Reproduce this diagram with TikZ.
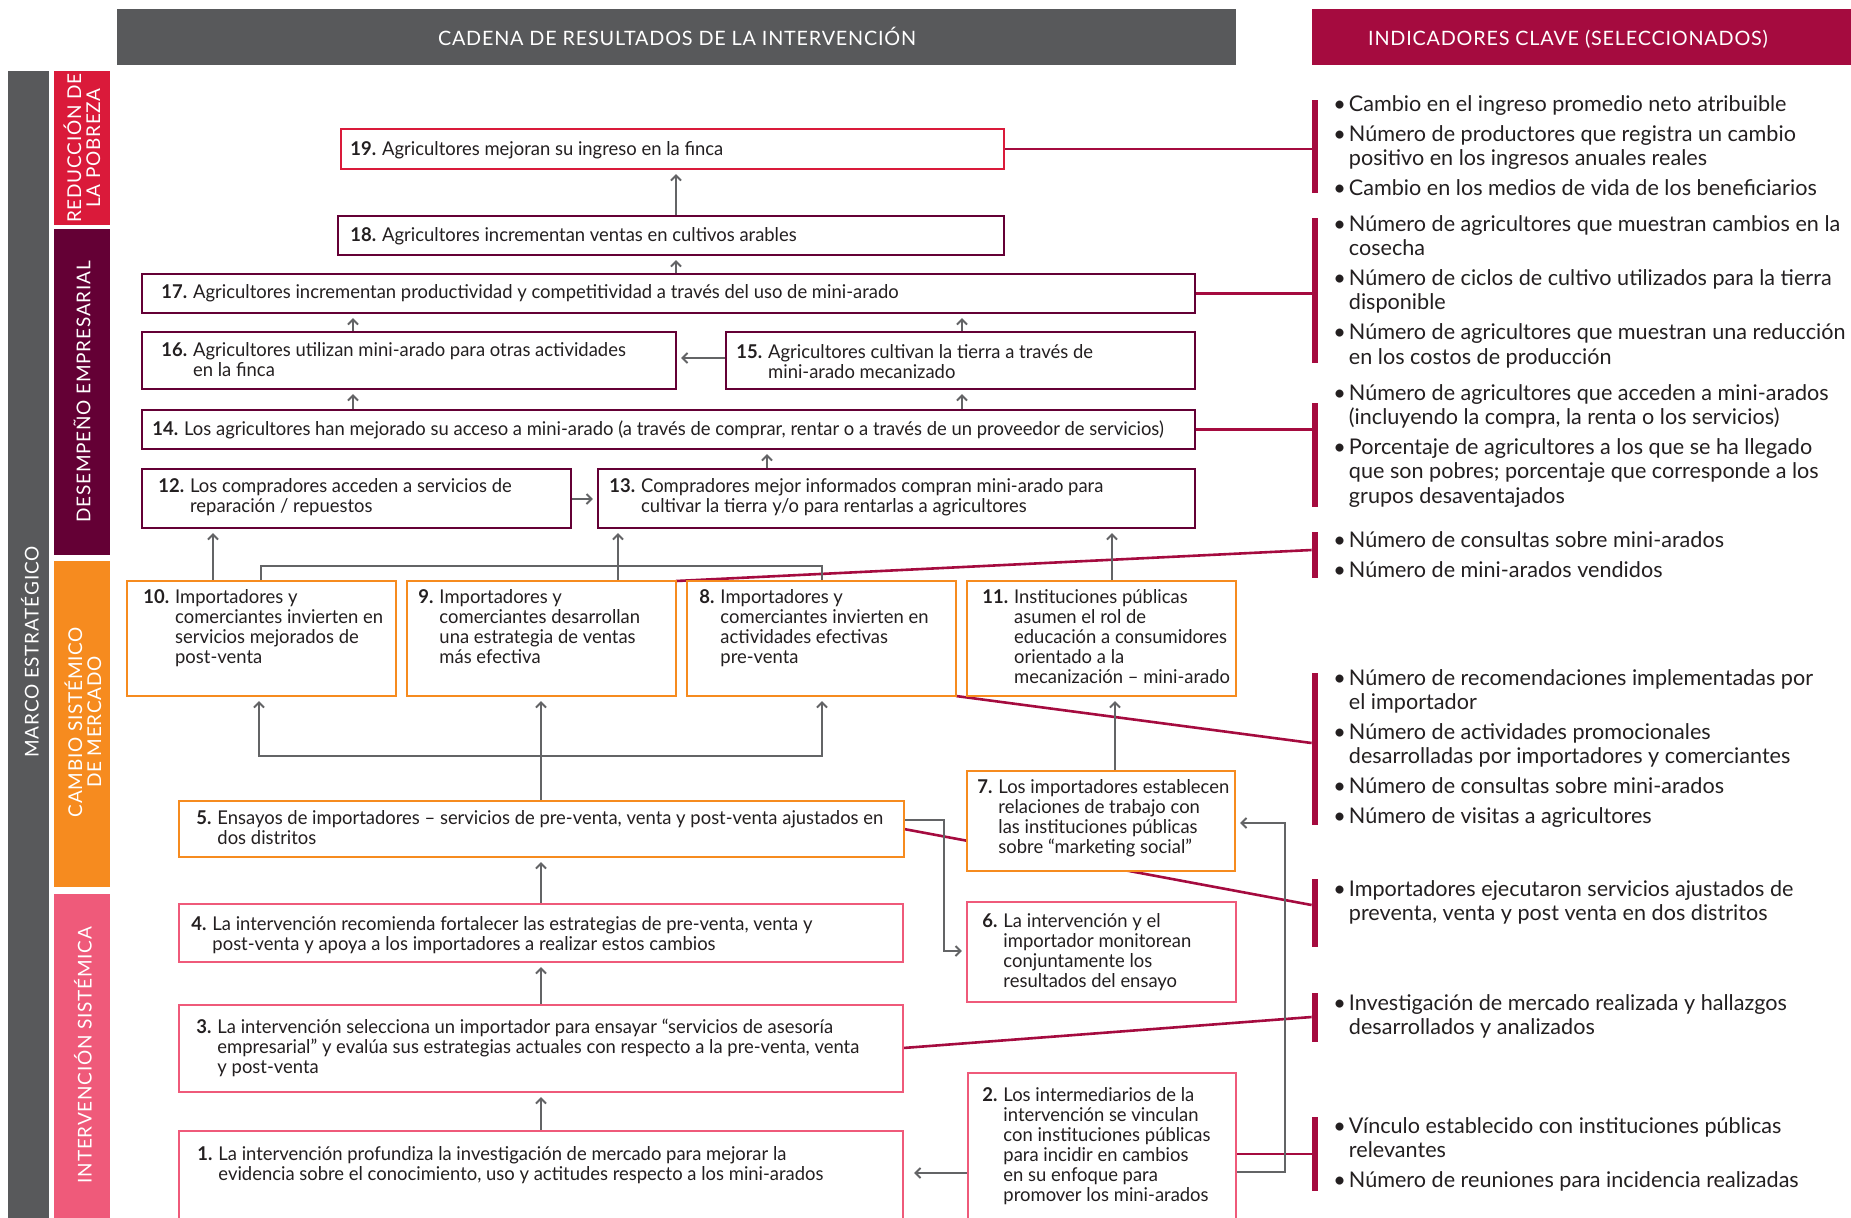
\documentclass[tikz,border=0pt]{standalone}
\usepackage{fontspec}
\setmainfont{Lato}
\newfontfamily\boxfont[FakeStretch=0.97]{Lato}
\newfontfamily\capfont[LetterSpace=4]{Lato}
\usetikzlibrary{arrows.meta,fit,calc}
\definecolor{dgray}{HTML}{58595B}
\definecolor{cgray}{HTML}{636466}
\definecolor{crim}{HTML}{A50B3F}
\definecolor{pred}{HTML}{DA1A3A}
\definecolor{maroon}{HTML}{640035}
\definecolor{orng}{HTML}{F68B1F}
\definecolor{pinkc}{HTML}{EF5A7A}
\definecolor{ink}{HTML}{231F20}
\newcommand\bx[2]{\textbf{#1}\hspace{3pt}\begin{tabular}[t]{@{}l@{}}#2\end{tabular}}
\newcommand\igap{2.8pt}
\tikzset{
  boxbase/.style={inner sep=0pt, fill=white, line width=1.1pt},
  bred/.style={boxbase, draw=pred},
  bmar/.style={boxbase, draw=maroon},
  bora/.style={boxbase, draw=orng},
  bpnk/.style={boxbase, draw=pinkc},
  txt/.style={inner sep=0pt, anchor=base west, text=ink, font=\boxfont\fontsize{9.5}{10}\selectfont},
  ind/.style={inner sep=0pt, anchor=base west, text=ink, font=\fontsize{10.8}{12.2}\selectfont},
  arr/.style={draw=cgray, line width=1pt, -{Straight Barb[length=2.5pt,width=5pt]}, shorten >=2pt},
  gline/.style={draw=cgray, line width=1pt},
  cline/.style={draw=crim, line width=1.3pt},
  brk/.style={fill=crim, inner sep=0pt},
  band/.style={inner sep=0pt},
  bandtxt/.style={text=white, rotate=90, align=center, font=\capfont\fontsize{9.5}{9.5}\selectfont},
  headtxt/.style={text=white, anchor=base, font=\capfont\fontsize{9.9}{9.9}\selectfont},
}
\begin{document}
\begin{tikzpicture}[x=0.5pt,y=-0.5pt]
\useasboundingbox (0,0) rectangle (1851,1217);
\clip (0,0) rectangle (1851,1217);
% headers
\node[band, fill=dgray, fit={(117,9) (1236,65)}] (h1) {};
\node[headtxt] (h1t) at (677,45) {CADENA DE RESULTADOS DE LA INTERVENCIÓN};
\node[band, fill=crim, fit={(1312,9) (1860,65)}] (h2) {};
\node[headtxt] (h2t) at (1568,45) {INDICADORES CLAVE (SELECCIONADOS)};
% side bands
\node[band, fill=dgray, fit={(8,71) (49,1230)}] (sg) {};
\node[bandtxt] (sgt) at (30,652) {MARCO ESTRATÉGICO};
\node[band, fill=pred, fit={(54,71) (110,225)}] (s1) {};
\node[bandtxt] (s1t) at (s1.center) {REDUCCIÓN DE\\LA POBREZA};
\node[band, fill=maroon, fit={(54,229) (110,555)}] (s2) {};
\node[bandtxt] (s2t) at (s2.center) {DESEMPEÑO EMPRESARIAL};
\node[band, fill=orng, fit={(54,561) (110,887)}] (s3) {};
\node[bandtxt] (s3t) at (83,722) {CAMBIO SISTÉMICO\\DE MERCADO};
\node[band, fill=pinkc, fit={(54,894) (110,1230)}] (s4) {};
\node[bandtxt] (s4t) at (83,1055) {INTERVENCIÓN SISTÉMICA};
% brackets
\node[brk, fit={(1312,100) (1318,193)}] (k1) {};
\node[brk, fit={(1312,218) (1318,363)}] (k2) {};
\node[brk, fit={(1312,403) (1318,507)}] (k3) {};
\node[brk, fit={(1312,532) (1318,578)}] (k4) {};
\node[brk, fit={(1312,673) (1318,825)}] (k5) {};
\node[brk, fit={(1312,879) (1318,947)}] (k6) {};
\node[brk, fit={(1312,993) (1318,1042)}] (k7) {};
\node[brk, fit={(1312,1117) (1318,1191)}] (k8) {};
% box corner points used by crimson lines drawn before boxes
\coordinate (c9ne) at (676,581);
\coordinate (c8se) at (956,696);
\coordinate (c5e) at (904,829);
\coordinate (c3e) at (903,1048);
% crimson connectors (drawn first, under boxes)
\draw[cline] (1004,149) -- (k1.west |- 0,149);
\draw[cline] (1195,293.5) -- (k2.west |- 0,293.5);
\draw[cline] (1195,429.5) -- (k3.west |- 0,429.5);
\draw[cline] (c9ne) -- (k4.west |- 0,550);
\draw[cline] (c8se) -- (k5.west |- 0,743);
\draw[cline] (c5e) -- (k6.west |- 0,905);
\draw[cline] (c3e) -- (k7.west |- 0,1017);
\draw[cline] (1236,1154) -- (k8.west |- 0,1154);
% boxes
\node[bred, fit={(341,129) (1004,169)}] (b19) {};
\node[bmar, fit={(338,216) (1004,255)}] (b18) {};
\node[bmar, fit={(142,274) (1195,313)}] (b17) {};
\node[bmar, fit={(142,332) (676,389)}] (b16) {};
\node[bmar, fit={(726,332) (1195,389)}] (b15) {};
\node[bmar, fit={(142,410) (1195,449)}] (b14) {};
\node[bmar, fit={(142,469) (571,528)}] (b12) {};
\node[bmar, fit={(598,469) (1195,528)}] (b13) {};
\node[bora, fit={(127,581) (396,696)}] (b10) {};
\node[bora, fit={(407,581) (676,696)}] (b9) {};
\node[bora, fit={(687,581) (956,696)}] (b8) {};
\node[bora, fit={(967,581) (1236,696)}] (b11) {};
\node[bora, fit={(179,801) (904,857)}] (b5) {};
\node[bora, fit={(967,771) (1235,871)}] (b7) {};
\node[bpnk, fit={(967,902) (1236,1002)}] (b6) {};
\node[bpnk, fit={(179,904) (903,962)}] (b4) {};
\node[bpnk, fit={(179,1005) (903,1092)}] (b3) {};
\node[bpnk, fit={(179,1131) (903,1240)}] (b1) {};
\node[bpnk, fit={(968,1073) (1236,1240)}] (b2) {};
% gray connectors
\draw[arr] (b18.north -| 676,0) -- (b19.south -| 676,0);
\draw[arr] (b17.north -| 676,0) -- (b18.south -| 676,0);
\draw[arr] (b16.north -| 353,0) -- (b17.south -| 353,0);
\draw[arr] (b15.north -| 962,0) -- (b17.south -| 962,0);
\draw[arr] (b14.north -| 353,0) -- (b16.south -| 353,0);
\draw[arr] (b14.north -| 962,0) -- (b15.south -| 962,0);
\draw[arr] (b15.west |- 0,358) -- (b16.east |- 0,358);
\draw[arr] (b13.north -| 767,0) -- (b14.south -| 767,0);
\draw[arr] (b12.east |- 0,499) -- (b13.west |- 0,499);
\draw[arr] (b10.north -| 213,0) -- (b12.south -| 213,0);
\draw[gline] (b10.north -| 261,0) -- (261,566) -- (822,566) -- (b8.north -| 822,0);
\draw[arr] (b9.north -| 618,0) -- (b13.south -| 618,0);
\draw[arr] (b11.north -| 1112,0) -- (b13.south -| 1112,0);
\draw[arr] (b5.north -| 541,0) -- (b9.south -| 541,0);
\coordinate (j5) at (541,756);
\draw[arr] (j5) -| (b10.south -| 259,0);
\draw[arr] (j5) -| (b8.south -| 822,0);
\draw[arr] (b7.north -| 1115,0) -- (b11.south -| 1115,0);
\draw[arr] (b4.north -| 541,0) -- (b5.south -| 541,0);
\draw[arr] (b3.north -| 541,0) -- (b4.south -| 541,0);
\draw[arr] (b1.north -| 541,0) -- (b3.south -| 541,0);
\draw[arr] (b5.east |- 0,820) -- (944,820) -- (944,951) -- (b6.west |- 0,951);
\draw[arr] (b2.east |- 0,1172) -- (1285,1172) -- (1285,823) -- (b7.east |- 0,823);
\draw[arr, shorten >=5pt] (b2.west |- 0,1173) -- (b1.east |- 0,1173);
% box texts
\node[txt] (t19) at (350,155) {\bx{19.}{Agricultores mejoran su ingreso en la finca}};
\node[txt] (t18) at (350,241) {\bx{18.}{Agricultores incrementan ventas en cultivos arables}};
\node[txt] (t17) at (161,298) {\bx{17.}{Agricultores incrementan productividad y competitividad a través del uso de mini-arado}};
\node[txt] (t16) at (161,356) {\bx{16.}{Agricultores utilizan mini-arado para otras actividades\\en la finca}};
\node[txt] (t15) at (736,358) {\bx{15.}{Agricultores cultivan la tierra a través de\\mini-arado mecanizado}};
\node[txt] (t14) at (152,435) {\bx{14.}{Los agricultores han mejorado su acceso a mini-arado (a través de comprar, rentar o a través de un proveedor de servicios)}};
\node[txt] (t12) at (158,492) {\bx{12.}{Los compradores acceden a servicios de\\reparación / repuestos}};
\node[txt] (t13) at (609,492) {\bx{13.}{Compradores mejor informados compran mini-arado para\\cultivar la tierra y/o para rentarlas a agricultores}};
\node[txt] (t10) at (143,603) {\bx{10.}{Importadores y\\comerciantes invierten en\\servicios mejorados de\\post-venta}};
\node[txt] (t9) at (418,603) {\bx{9.}{Importadores y\\comerciantes desarrollan\\una estrategia de ventas\\más efectiva}};
\node[txt] (t8) at (699,603) {\bx{8.}{Importadores y\\comerciantes invierten en\\actividades efectivas\\pre-venta}};
\node[txt] (t11) at (982,603) {\bx{11.}{Instituciones públicas\\asumen el rol de\\educación a consumidores\\orientado a la\\mecanización – mini-arado}};
\node[txt] (t7) at (977,793) {\bx{7.}{Los importadores establecen\\relaciones de trabajo con\\las instituciones públicas\\sobre “marketing social”}};
\node[txt] (t5) at (196,824) {\bx{5.}{Ensayos de importadores – servicios de pre-venta, venta y post-venta ajustados en\\dos distritos}};
\node[txt] (t6) at (982,927) {\bx{6.}{La intervención y el\\importador monitorean\\conjuntamente los\\resultados del ensayo}};
\node[txt] (t4) at (191,930) {\bx{4.}{La intervención recomienda fortalecer las estrategias de pre-venta, venta y\\post-venta y apoya a los importadores a realizar estos cambios}};
\node[txt] (t3) at (196,1033) {\bx{3.}{La intervención selecciona un importador para ensayar “servicios de asesoría\\empresarial” y evalúa sus estrategias actuales con respecto a la pre-venta, venta\\y post-venta}};
\node[txt] (t1) at (197,1160) {\bx{1.}{La intervención profundiza la investigación de mercado para mejorar la\\evidencia sobre el conocimiento, uso y actitudes respecto a los mini-arados}};
\node[txt] (t2) at (982,1101) {\bx{2.}{Los intermediarios de la\\intervención se vinculan\\con instituciones públicas\\para incidir en cambios\\en su enfoque para\\promover los mini-arados}};
% indicators
\node[ind] (i1) at (1333,111) {\begin{tabular}[t]{@{}l@{\hspace{1.5pt}}l@{}}
\textbullet & Cambio en el ingreso promedio neto atribuible\\[\igap]
\textbullet & Número de productores que registra un cambio\\
 & positivo en los ingresos anuales reales\\[\igap]
\textbullet & Cambio en los medios de vida de los beneficiarios
\end{tabular}};
\node[ind] (i2) at (1333,231) {\begin{tabular}[t]{@{}l@{\hspace{1.5pt}}l@{}}
\textbullet & Número de agricultores que muestran cambios en la\\
 & cosecha\\[\igap]
\textbullet & Número de ciclos de cultivo utilizados para la tierra\\
 & disponible\\[\igap]
\textbullet & Número de agricultores que muestran una reducción\\
 & en los costos de producción
\end{tabular}};
\node[ind] (i3) at (1333,400) {\begin{tabular}[t]{@{}l@{\hspace{1.5pt}}l@{}}
\textbullet & Número de agricultores que acceden a mini-arados\\
 & (incluyendo la compra, la renta o los servicios)\\[\igap]
\textbullet & Porcentaje de agricultores a los que se ha llegado\\
 & que son pobres; porcentaje que corresponde a los\\
 & grupos desaventajados
\end{tabular}};
\node[ind] (i4) at (1333,547) {\begin{tabular}[t]{@{}l@{\hspace{1.5pt}}l@{}}
\textbullet & Número de consultas sobre mini-arados\\[\igap]
\textbullet & Número de mini-arados vendidos
\end{tabular}};
\node[ind] (i5) at (1333,685) {\begin{tabular}[t]{@{}l@{\hspace{1.5pt}}l@{}}
\textbullet & Número de recomendaciones implementadas por\\
 & el importador\\[\igap]
\textbullet & Número de actividades promocionales\\
 & desarrolladas por importadores y comerciantes\\[\igap]
\textbullet & Número de consultas sobre mini-arados\\[\igap]
\textbullet & Número de visitas a agricultores
\end{tabular}};
\node[ind] (i6) at (1333,896) {\begin{tabular}[t]{@{}l@{\hspace{1.5pt}}l@{}}
\textbullet & Importadores ejecutaron servicios ajustados de\\
 & preventa, venta y post venta en dos distritos
\end{tabular}};
\node[ind] (i7) at (1333,1010) {\begin{tabular}[t]{@{}l@{\hspace{1.5pt}}l@{}}
\textbullet & Investigación de mercado realizada y hallazgos\\
 & desarrollados y analizados
\end{tabular}};
\node[ind] (i8) at (1333,1133) {\begin{tabular}[t]{@{}l@{\hspace{1.5pt}}l@{}}
\textbullet & Vínculo establecido con instituciones públicas\\
 & relevantes\\[\igap]
\textbullet & Número de reuniones para incidencia realizadas
\end{tabular}};
\end{tikzpicture}
\end{document}
